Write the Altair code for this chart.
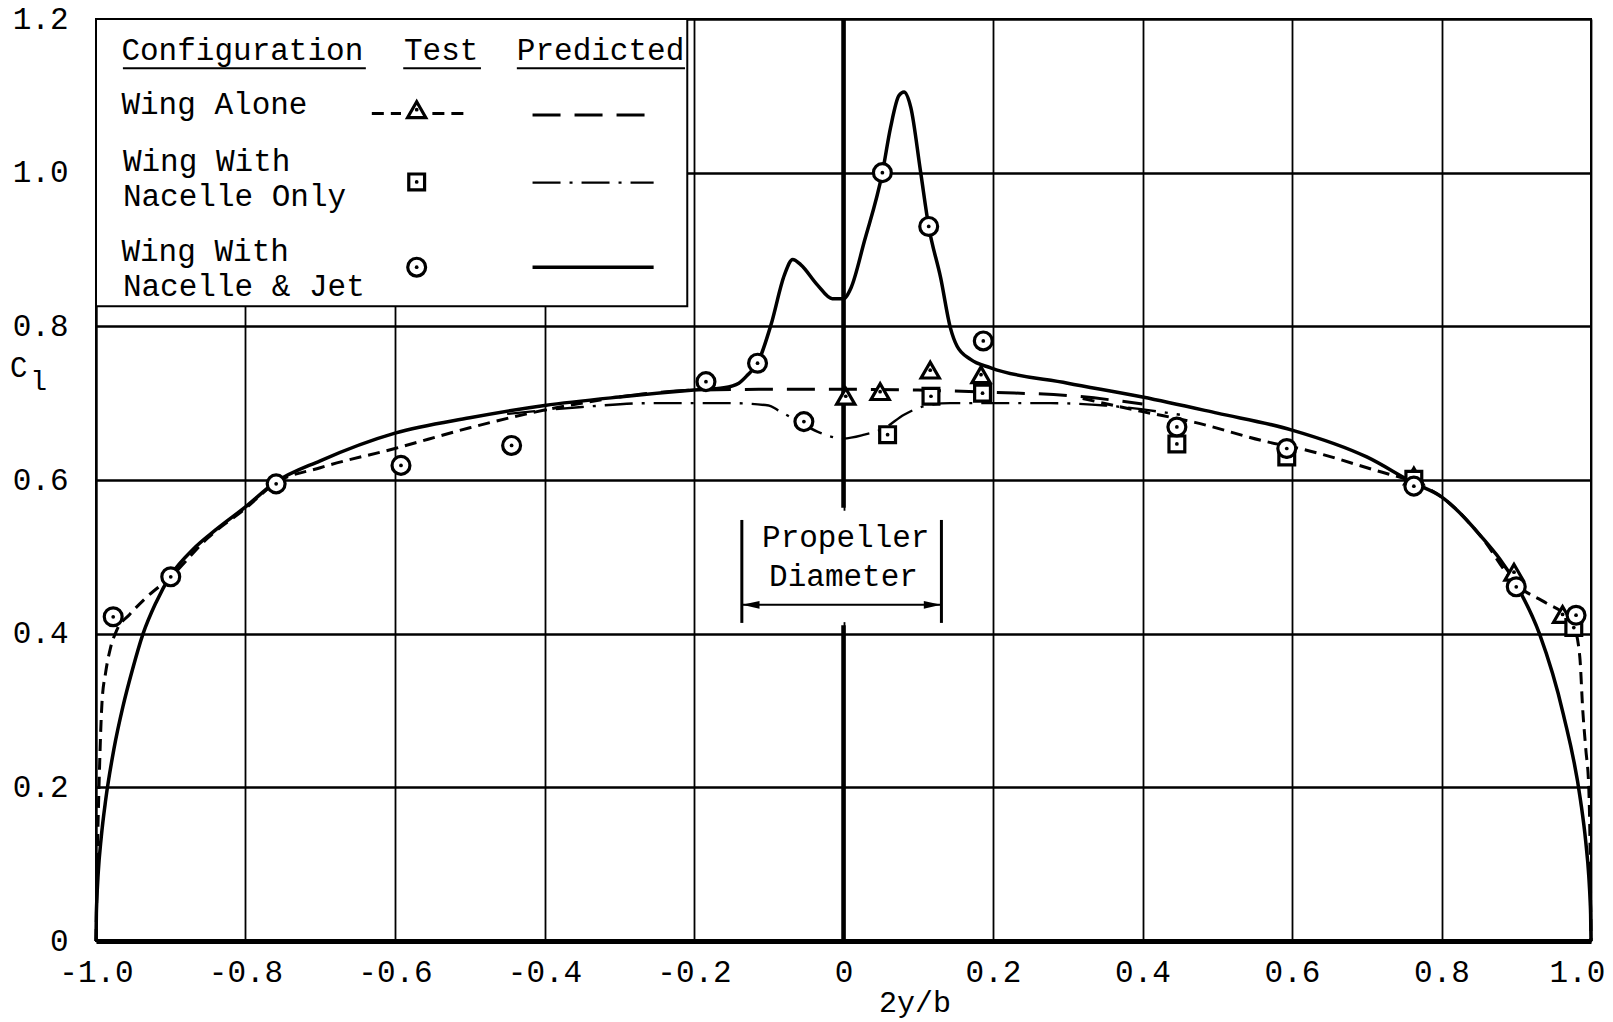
import altair as alt
import pandas as pd

# ---------------- data ----------------
x_ticks = [-1.0, -0.8, -0.6, -0.4, -0.2, 0.0, 0.2, 0.4, 0.6, 0.8, 1.0]
y_ticks = [0.0, 0.2, 0.4, 0.6, 0.8, 1.0, 1.2]

# Predicted, wing with nacelle & jet (solid)
jet_pred_x = [-1.0, -0.9995, -0.999, -0.997, -0.993, -0.987, -0.976, -0.964, -0.951, -0.937,
              -0.92, -0.9, -0.87, -0.84, -0.8, -0.76, -0.7, -0.6, -0.5, -0.4,
              -0.3, -0.2, -0.16, -0.14, -0.128, -0.115, -0.097, -0.079, -0.068, -0.057,
              -0.035, -0.015, 0.0, 0.01, 0.028, 0.052, 0.063, 0.074, 0.081, 0.09,
              0.103, 0.114, 0.13, 0.143, 0.152, 0.17, 0.197, 0.3, 0.4, 0.5,
              0.6, 0.7, 0.763, 0.8, 0.85, 0.9, 0.931, 0.963, 0.986, 0.993,
              0.997, 0.999, 0.9995, 1.0]
jet_pred_y = [0.0, 0.036, 0.051, 0.089, 0.135, 0.184, 0.25, 0.305, 0.354, 0.40,
              0.44, 0.476, 0.51, 0.535, 0.565, 0.597, 0.625, 0.661, 0.681, 0.697,
              0.708, 0.717, 0.720, 0.726, 0.737, 0.752, 0.802, 0.867, 0.887, 0.880,
              0.854, 0.836, 0.836, 0.850, 0.911, 1.0, 1.059, 1.100, 1.105, 1.085,
              1.002, 0.930, 0.863, 0.798, 0.774, 0.757, 0.746, 0.726, 0.708, 0.687,
              0.665, 0.630, 0.596, 0.578, 0.530, 0.464, 0.40, 0.295, 0.183, 0.129,
              0.085, 0.049, 0.035, 0.0]

# Fairing of test data (short dashes), left and right parts
fair_left_x = [-1.0, -0.9995, -0.999, -0.998, -0.996, -0.992, -0.987, -0.981, -0.972, -0.955,
               -0.935, -0.9, -0.85, -0.8, -0.76, -0.7, -0.6, -0.5, -0.4, -0.32]
fair_left_y = [0.0, 0.03, 0.06, 0.12, 0.20, 0.31, 0.35, 0.38, 0.405, 0.425,
               0.445, 0.474, 0.525, 0.563, 0.596, 0.616, 0.641, 0.668, 0.691, 0.705]
fair_right_x = [0.32, 0.4, 0.47, 0.57, 0.61, 0.71, 0.763, 0.8, 0.85, 0.9,
                0.94, 0.965, 0.977, 0.985, 0.989, 0.993, 0.997, 0.999, 0.9995, 1.0]
fair_right_y = [0.706, 0.689, 0.675, 0.649, 0.641, 0.613, 0.597, 0.578, 0.530, 0.464,
                0.44, 0.425, 0.41, 0.37, 0.30, 0.25, 0.20, 0.10, 0.05, 0.0]

# Predicted, wing alone (long dashes)
alone_pred_x = [-0.3, -0.2, -0.1, 0.0, 0.1, 0.2, 0.3, 0.4]
alone_pred_y = [0.708, 0.717, 0.718, 0.718, 0.717, 0.714, 0.710, 0.699]

# Predicted, wing with nacelle only (dash-dot)
nac_pred_x = [-0.45, -0.35, -0.26, -0.15, -0.1, -0.088, -0.06, -0.035, 0.0, 0.028,
              0.054, 0.081, 0.108, 0.143, 0.277, 0.35, 0.45]
nac_pred_y = [0.686, 0.695, 0.700, 0.700, 0.697, 0.691, 0.676, 0.663, 0.654, 0.659,
              0.667, 0.685, 0.696, 0.700, 0.700, 0.697, 0.685]

# Test points
jet_test_x = [-0.977, -0.9, -0.759, -0.592, -0.444, -0.184, -0.115, -0.053, 0.052, 0.114,
              0.187, 0.446, 0.593, 0.763, 0.9, 0.98]
jet_test_y = [0.422, 0.474, 0.595, 0.619, 0.645, 0.728, 0.752, 0.676, 1.0, 0.93,
              0.781, 0.669, 0.641, 0.592, 0.461, 0.424]
alone_test_x = [0.003, 0.049, 0.116, 0.184, 0.763, 0.897, 0.962]
alone_test_y = [0.709, 0.715, 0.743, 0.737, 0.605, 0.480, 0.425]
nac_test_x = [0.059, 0.117, 0.186, 0.446, 0.593, 0.763, 0.977]
nac_test_y = [0.659, 0.709, 0.713, 0.647, 0.630, 0.601, 0.408]

# Legend (drawn inside the plot, in data units)
legend_box = [-1.0, -0.209, 0.826, 1.2]
legend_text = ["Configuration", "Test", "Predicted", "Wing Alone", "Wing With",
               "Nacelle Only", "Wing With", "Nacelle & Jet"]
legend_text_x = [-0.966, -0.588, -0.437, -0.966, -0.964, -0.964, -0.966, -0.964]
legend_text_y = [1.147, 1.147, 1.147, 1.0764, 1.0025, 0.957, 0.8847, 0.839]
underline_x = [-0.964, -0.589, -0.437]
underline_x2 = [-0.639, -0.485, -0.212]
underline_y = [1.136, 1.136, 1.136]
legend_marker_x = -0.571
legend_marker_y = [1.082, 0.988, 0.877]
legend_line_x = [-0.416, -0.254]
legend_line_y = [1.075, 0.987, 0.877]
legend_short_x = [[-0.631, -0.592], [-0.55, -0.50]]
legend_short_y = 1.077

# Annotations
center_line_y = [0.0, 0.564]
center_line_y2 = [0.411, 1.2]
bracket_x = [-0.136, 0.131]
bracket_y = [0.414, 0.548]
arrow_y = 0.4375
prop_text = ["Propeller", "Diameter"]
prop_text_x = [0.003, 0.0]
prop_text_y = [0.524, 0.474]

FONT = "Liberation Mono"

# ---------------- tables ----------------
def seg_df(parts):
    rows = []
    for name, xs_, ys_ in parts:
        for i, (a, b) in enumerate(zip(xs_, ys_)):
            rows.append({"seg": name, "i": i, "x": a, "y": b})
    return pd.DataFrame(rows)

solid_df = seg_df([("plot", jet_pred_x, jet_pred_y),
                   ("legend", legend_line_x, [legend_line_y[2]] * 2)])
fair_df = seg_df([("left", fair_left_x, fair_left_y),
                  ("right", fair_right_x, fair_right_y),
                  ("lg1", legend_short_x[0], [legend_short_y] * 2),
                  ("lg2", legend_short_x[1], [legend_short_y] * 2)])
long_df = seg_df([("plot", alone_pred_x, alone_pred_y),
                  ("legend", legend_line_x, [legend_line_y[0]] * 2)])
dd_df = seg_df([("plot", nac_pred_x, nac_pred_y),
                ("legend", legend_line_x, [legend_line_y[1]] * 2)])

circ_df = pd.DataFrame({"x": jet_test_x + [legend_marker_x], "y": jet_test_y + [legend_marker_y[2]]})
tri_df = pd.DataFrame({"x": alone_test_x + [legend_marker_x], "y": alone_test_y + [legend_marker_y[0]]})
sq_df = pd.DataFrame({"x": nac_test_x + [legend_marker_x], "y": nac_test_y + [legend_marker_y[1]]})

xs = alt.Scale(domain=[-1, 1], nice=False, zero=False)
ys = alt.Scale(domain=[0, 1.2], nice=False, zero=False)

x_axis = alt.Axis(values=x_ticks, title=None, grid=True, ticks=False, tickSize=0,
                  labelFlush=False, labelPadding=31, labelBaseline="middle",
                  labelOffset={"condition": {"test": "datum.value >= 1", "value": -14},
                               "value": 0},
                  labelExpr="datum.value == 0 ? '0' : (datum.value < 0 ? '-' : '') + format(abs(datum.value), '.1f')",
                  labelFont=FONT, labelFontSize=31, labelColor="black",
                  domainColor="black", domainWidth=5, gridColor="black", gridWidth=1.8,
                  gridOpacity=1)
y_axis = alt.Axis(values=y_ticks, title=None, grid=True, ticks=False, tickSize=0,
                  labelPadding=28, labelFlush=False,
                  labelExpr="datum.value == 0 ? '0' : format(datum.value, '.1f')",
                  labelFont=FONT, labelFontSize=31, labelColor="black",
                  domainColor="black", domainWidth=2, gridColor="black", gridWidth=2.4,
                  gridOpacity=1)

X = alt.X("x:Q", scale=xs, axis=x_axis)
Y = alt.Y("y:Q", scale=ys, axis=y_axis)

box = alt.Chart(pd.DataFrame({"x": [legend_box[0]], "x2": [legend_box[1]],
                              "y": [legend_box[2]], "y2": [legend_box[3]]})).mark_rect(
    fill="white", stroke="black", strokeWidth=2).encode(x=X, x2="x2:Q", y=Y, y2="y2:Q")

# white gap in the centre grid line behind the "Propeller Diameter" label
gap = alt.Chart(pd.DataFrame({"x": [0.0], "y": [center_line_y2[0] + 0.004],
                              "y2": [center_line_y[1] - 0.004]})).mark_rule(
    color="white", strokeWidth=5).encode(x=X, y=Y, y2="y2:Q")

def line_layer(df, width, dash=None):
    kw = dict(color="black", strokeWidth=width, interpolate="monotone")
    if dash:
        kw["strokeDash"] = dash
    return alt.Chart(df).mark_line(**kw).encode(x=X, y=Y, detail="seg:N", order="i:Q")

solid = line_layer(solid_df, 3.5)
fair = line_layer(fair_df, 3, [12, 7])
longd = line_layer(long_df, 3, [28, 14])
dashdot = line_layer(dd_df, 2.4, [28, 9, 3, 9])

center = alt.Chart(pd.DataFrame({"x": [0.0, 0.0], "y": center_line_y, "y2": center_line_y2})).mark_rule(
    color="black", strokeWidth=4.5).encode(x=X, y=Y, y2="y2:Q")
brackets = alt.Chart(pd.DataFrame({"x": bracket_x, "y": [bracket_y[0]] * 2, "y2": [bracket_y[1]] * 2})).mark_rule(
    color="black", strokeWidth=3).encode(x=X, y=Y, y2="y2:Q")
arrow = alt.Chart(pd.DataFrame({"x": [bracket_x[0]], "x2": [bracket_x[1]], "y": [arrow_y]})).mark_rule(
    color="black", strokeWidth=2).encode(x=X, x2="x2:Q", y=Y)
head_l = alt.Chart(pd.DataFrame({"x": [bracket_x[0] + 0.012], "y": [arrow_y]})).mark_point(
    shape="M-1,0L1,-0.45L1,0.45Z", filled=True, color="black", opacity=1, size=300).encode(x=X, y=Y)
head_r = alt.Chart(pd.DataFrame({"x": [bracket_x[1] - 0.012], "y": [arrow_y]})).mark_point(
    shape="M1,0L-1,-0.45L-1,0.45Z", filled=True, color="black", opacity=1, size=300).encode(x=X, y=Y)

underlines = alt.Chart(pd.DataFrame({"x": underline_x, "x2": underline_x2, "y": underline_y})).mark_rule(
    color="black", strokeWidth=2).encode(x=X, x2="x2:Q", y=Y)

def marker_layer(df, shape, size):
    pts = alt.Chart(df).mark_point(shape=shape, size=size, filled=True, fill="white",
                                   stroke="black", strokeWidth=3.2, opacity=1).encode(x=X, y=Y)
    dot = alt.Chart(df).mark_point(shape="circle", size=14, filled=True, color="black",
                                   opacity=1).encode(x=X, y=Y)
    return pts + dot

tris = marker_layer(tri_df, "triangle-up", 330)
sqs = marker_layer(sq_df, "square", 250)
circs = marker_layer(circ_df, "circle", 320)

leg_txt = alt.Chart(pd.DataFrame({"x": legend_text_x, "y": legend_text_y, "t": legend_text})).mark_text(
    align="left", baseline="alphabetic", font=FONT, fontSize=31, color="black").encode(x=X, y=Y, text="t:N")
prop_txt = alt.Chart(pd.DataFrame({"x": prop_text_x, "y": prop_text_y, "t": prop_text})).mark_text(
    align="center", baseline="middle", font=FONT, fontSize=31, color="black").encode(x=X, y=Y, text="t:N")
xtitle = alt.Chart(pd.DataFrame({"x": [0.0957], "y": [-0.0924], "t": ["2y/b"]})).mark_text(
    align="center", baseline="alphabetic", font=FONT, fontSize=30, color="black").encode(x=X, y=Y, text="t:N")
ytitle_c = alt.Chart(pd.DataFrame({"x": [-1.115], "y": [0.734], "t": ["C"]})).mark_text(
    align="left", baseline="alphabetic", font=FONT, fontSize=29, color="black").encode(x=X, y=Y, text="t:N")
ytitle_l = alt.Chart(pd.DataFrame({"x": [-1.088], "y": [0.717], "t": ["l"]})).mark_text(
    align="left", baseline="alphabetic", font=FONT, fontSize=28, color="black").encode(x=X, y=Y, text="t:N")

chart = alt.layer(
    box, gap, underlines,
    fair, longd, dashdot, solid,
    center, brackets, arrow, head_l, head_r,
    tris, sqs, circs,
    leg_txt, prop_txt, xtitle, ytitle_c, ytitle_l,
).properties(
    width=1495, height=922,
    padding={"left": 96, "right": 22, "top": 19, "bottom": 81},
    autosize=alt.AutoSizeParams(type="none"),
    background="white",
).configure_view(stroke="black", strokeWidth=2)

chart.save("out.html", embed_options={"renderer": "svg", "actions": False})
